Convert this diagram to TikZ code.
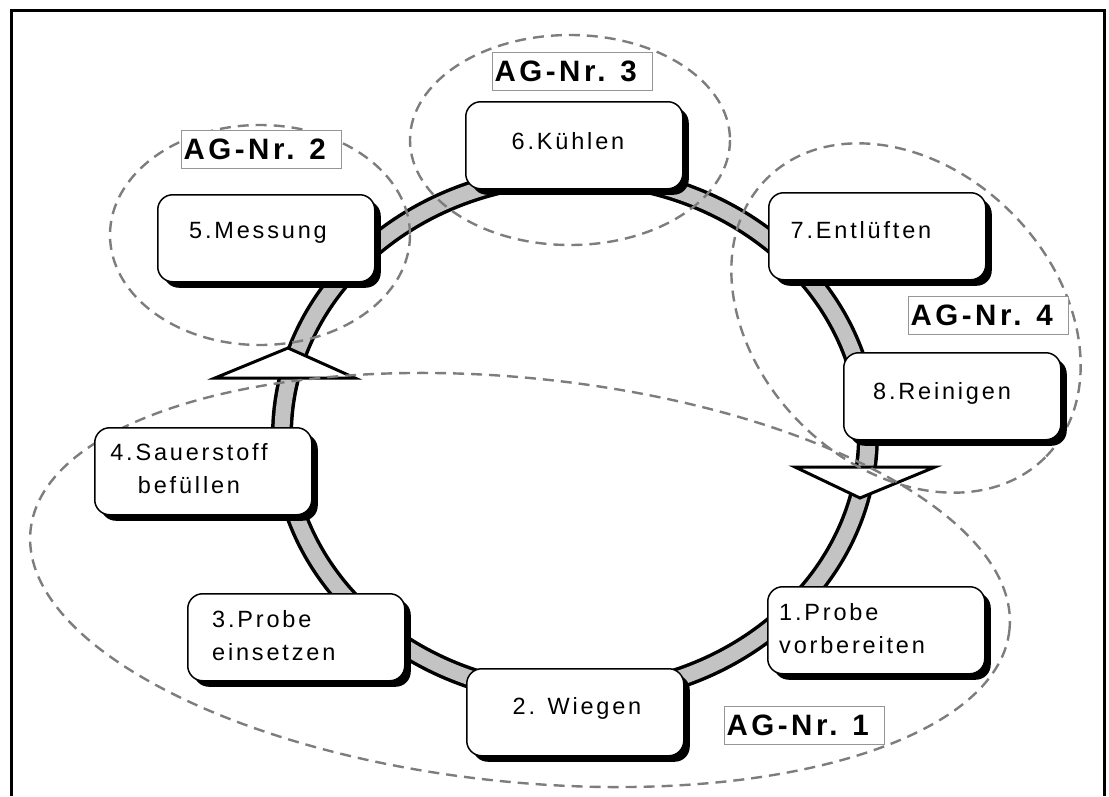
\documentclass[tikz,border=0pt]{standalone}
\usepackage{fontspec}
\setmainfont{Liberation Sans}
\newfontfamily\boxfont[LetterSpace=12]{Liberation Sans}
\newfontfamily\agfont[LetterSpace=12]{Liberation Sans}
\usetikzlibrary{shadows}
\definecolor{dashgray}{RGB}{125,125,125}
\definecolor{ringgray}{RGB}{195,195,195}
\definecolor{labelgray}{RGB}{150,150,150}
\begin{document}
\begin{tikzpicture}[x=1pt,y=-1pt,
  procbox/.style={draw=black, line width=1.5pt, fill=white, rounded corners=15pt,
    minimum width=217pt, minimum height=87pt, inner sep=0pt, anchor=north west,
    drop shadow={fill=black, opacity=1, shadow xshift=6pt, shadow yshift=-6pt}},
  proctext/.style={font=\boxfont\fontsize{23.5}{33}\selectfont, inner sep=0pt},
  agbox/.style={draw=labelgray, line width=1pt, fill=white, minimum height=38pt,
    text width=156pt, inner xsep=2pt, inner ysep=0pt, align=left, anchor=north west,
    font=\agfont\bfseries\fontsize{29.5}{35}\selectfont},
  agzone/.style={draw=dashgray, line width=2.4pt, dash pattern=on 11pt off 7pt},
  arrowtri/.style={draw=black, fill=white, line width=3pt, line join=miter},
  frame/.style={draw=black, line width=3pt}
]
\useasboundingbox (0,0) rectangle (1109,796);
% frame
\draw[frame] (11,796) -- (11,10) -- (1104,10) -- (1104,796);
% ring
\draw[line width=22pt, black] (575,435) ellipse [x radius=293, y radius=260];
\draw[line width=15pt, ringgray] (575,435) ellipse [x radius=293, y radius=260];
% direction triangles
\draw[arrowtri] (215,378) -- (288,348) -- (355,378) -- cycle;
\draw[arrowtri] (795,467) -- (860,498) -- (935,467) -- cycle;
% working group zones
\draw[agzone] (260,235) ellipse [x radius=150, y radius=110];
\draw[agzone] (570,140) ellipse [x radius=160, y radius=105];
\draw[agzone, rotate around={-45:(906,318)}] (906,318) ellipse [x radius=197, y radius=149];
\draw[agzone, rotate around={-5.8:(520,580)}] (520,580) ellipse [x radius=492, y radius=202];
% process boxes
\node[procbox] (b5) at (157,194) {};
\node[procbox] (b6) at (465,101) {};
\node[procbox] (b7) at (768,192) {};
\node[procbox] (b8) at (843,352) {};
\node[procbox] (b4) at (94,427) {};
\node[procbox] (b3) at (187,593) {};
\node[procbox] (b2) at (466,668) {};
\node[procbox] (b1) at (767,586) {};
% texts
\node[proctext] (t5) at (258,233) {5.Messung};
\node[proctext] (t6) at (568,141) {6.Kühlen};
\node[proctext] (t7) at (861,230) {7.Entlüften};
\node[proctext] (t8) at (942,393) {8.Reinigen};
\node[proctext, align=center] (t4) at (189,469) {4.Sauerstoff\\befüllen};
\node[proctext, align=left, anchor=west] (t3) at (212,636) {3.Probe\\einsetzen};
\node[proctext, align=left, anchor=west] (t1) at (779,629) {1.Probe\\vorbereiten};
\node[proctext] (t2) at (577,708) {2. Wiegen};
% labels
\node[agbox] (ag2) at (181,130) {AG-Nr. 2};
\node[agbox] (ag3) at (492,52) {AG-Nr. 3};
\node[agbox] (ag4) at (908,296) {AG-Nr. 4};
\node[agbox] (ag1) at (724,706) {AG-Nr. 1};
\end{tikzpicture}
\end{document}
